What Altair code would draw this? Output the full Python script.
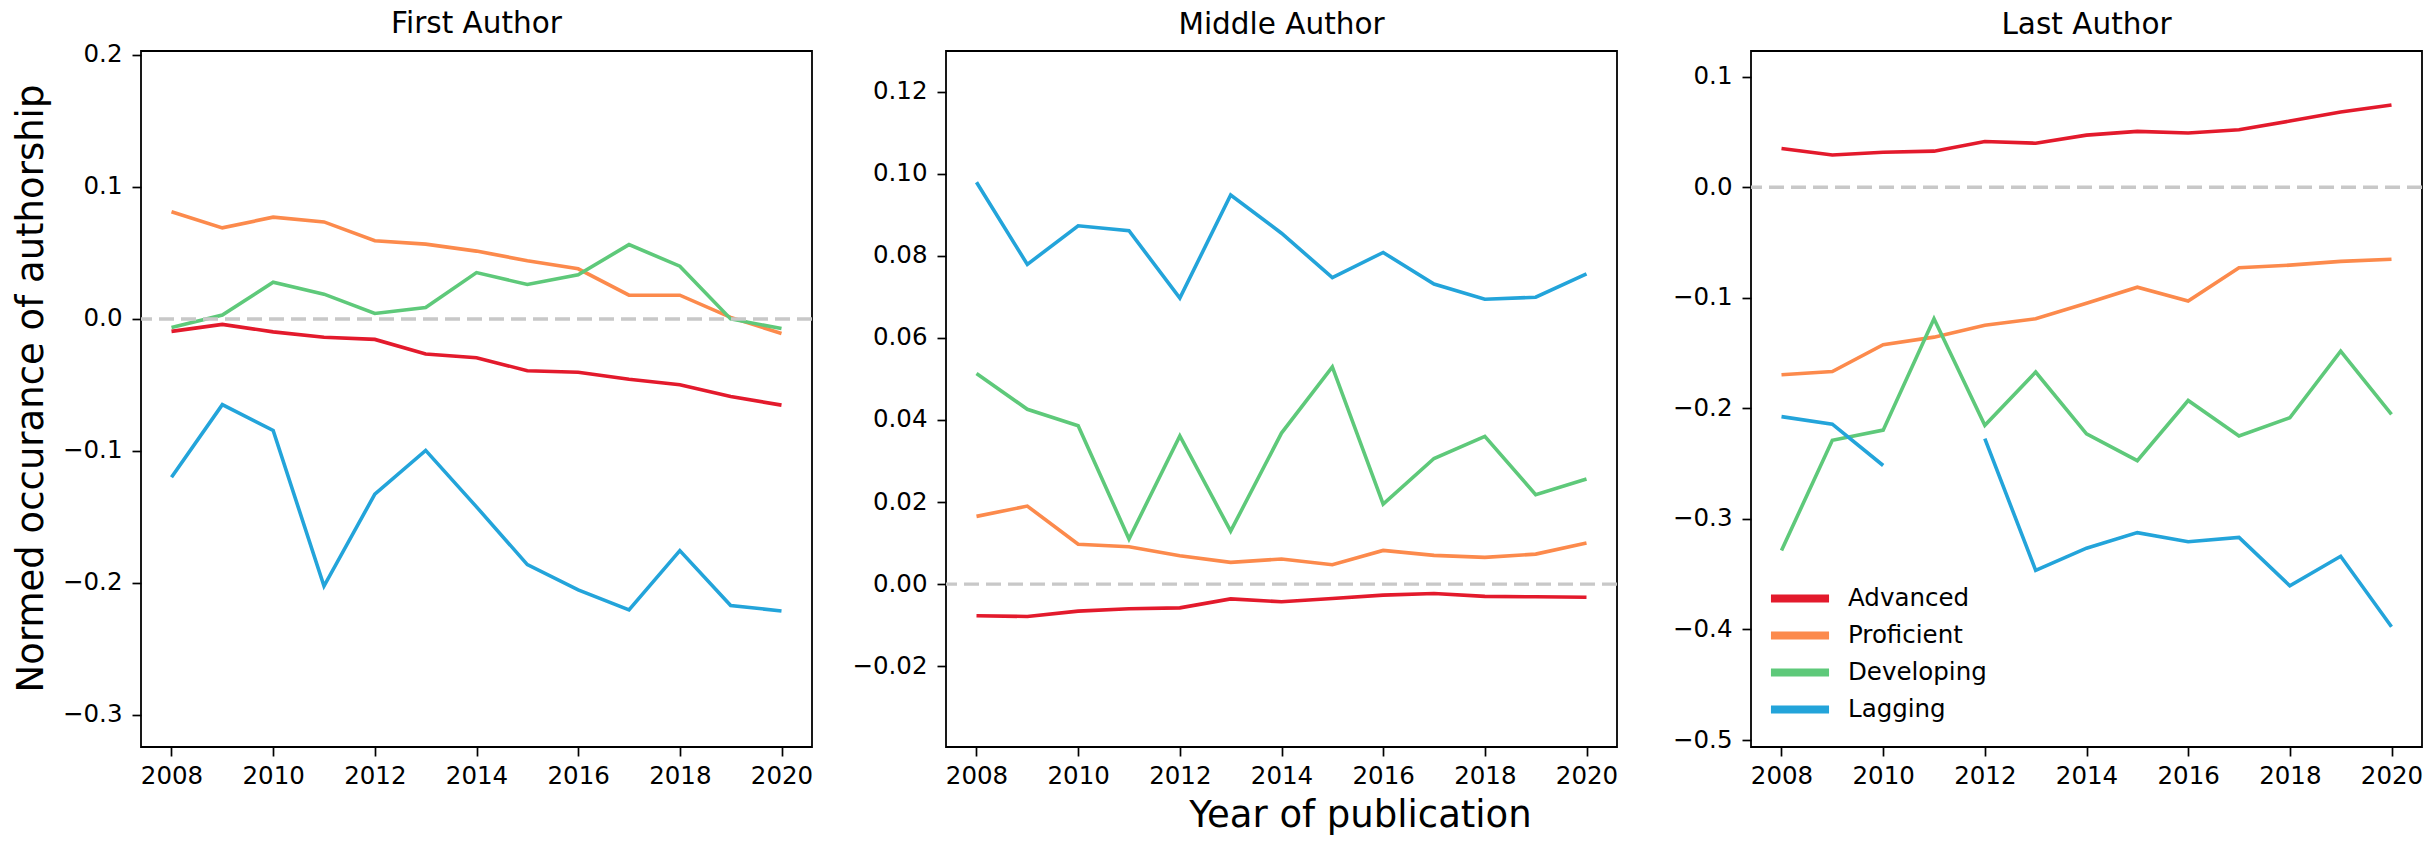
import altair as alt
import pandas as pd

years = list(range(2008, 2021))
levels = ["Advanced", "Proficient", "Developing", "Lagging"]
palette = ["#e31a2c", "#fc8a4c", "#5ec97a", "#23a4da"]

# First author
first_advanced = [-0.0094, -0.0041, -0.0098, -0.0139, -0.0155, -0.0265, -0.0294, -0.0392, -0.0404, -0.0457, -0.0498, -0.0588, -0.0653]
first_proficient = [0.0812, 0.0690, 0.0771, 0.0735, 0.0592, 0.0567, 0.0514, 0.0441, 0.0380, 0.0180, 0.0180, 0.0012, -0.0110]
first_developing = [-0.0065, 0.0029, 0.0278, 0.0188, 0.0041, 0.0086, 0.0351, 0.0261, 0.0335, 0.0563, 0.0400, 0.0000, -0.0073]
first_lagging = [-0.1200, -0.0649, -0.0845, -0.2024, -0.1327, -0.0996, -0.1424, -0.1861, -0.2053, -0.2204, -0.1755, -0.2171, -0.2212]

# Middle author
middle_advanced = [-0.0077, -0.0079, -0.0066, -0.0060, -0.0058, -0.0036, -0.0043, -0.0035, -0.0027, -0.0023, -0.0030, -0.0031, -0.0032]
middle_proficient = [0.0165, 0.0190, 0.0097, 0.0091, 0.0069, 0.0053, 0.0061, 0.0047, 0.0082, 0.0070, 0.0065, 0.0073, 0.0100]
middle_developing = [0.0513, 0.0426, 0.0386, 0.0110, 0.0361, 0.0129, 0.0368, 0.0529, 0.0195, 0.0306, 0.0360, 0.0218, 0.0256]
middle_lagging = [0.0979, 0.0779, 0.0873, 0.0861, 0.0697, 0.0948, 0.0855, 0.0747, 0.0808, 0.0731, 0.0694, 0.0699, 0.0756]

# Last author (no Lagging value for 2011)
last_advanced = [0.0350, 0.0292, 0.0316, 0.0326, 0.0413, 0.0398, 0.0471, 0.0505, 0.0491, 0.0520, 0.0598, 0.0680, 0.0743]
last_proficient = [-0.1696, -0.1667, -0.1424, -0.1356, -0.1249, -0.1190, -0.1050, -0.0904, -0.1030, -0.0729, -0.0705, -0.0671, -0.0651]
last_developing = [-0.3285, -0.2289, -0.2197, -0.1190, -0.2153, -0.1672, -0.2230, -0.2473, -0.1929, -0.2250, -0.2085, -0.1482, -0.2055]
last_lagging = [-0.2075, -0.2143, -0.2517, None, -0.2274, -0.3465, -0.3265, -0.3124, -0.3207, -0.3168, -0.3605, -0.3338, -0.3975]

FONT = "DejaVu Sans"
W, H = 671, 696


def long_table(series):
    rows = []
    for lvl, vals in zip(levels, series):
        for yr, v in zip(years, vals):
            rows.append({"year": yr, "level": lvl, "value": v})
    return pd.DataFrame(rows)


def panel(title, series, y_domain, y_ticks, y_fmt, title_offset, y_title=None, x_title=None, legend=None):
    df = long_table(series)
    if x_title:
        x_extra = {"title": x_title, "titleFontSize": 37, "titleFont": FONT, "titleFontWeight": "normal",
                   "titleColor": "black", "titleX": 414, "titleY": 79,
                   "titleAlign": "center", "titleBaseline": "alphabetic"}
    else:
        x_extra = {"title": None}
    if y_title:
        y_extra = {"title": y_title, "titleFontSize": 37, "titleFont": FONT, "titleFontWeight": "normal",
                   "titleColor": "black", "titleX": -110, "titleY": 337,
                   "titleAngle": 270, "titleAlign": "center", "titleBaseline": "middle"}
    else:
        y_extra = {"title": None}
    x_axis = alt.Axis(
        values=list(range(2008, 2021, 2)), format="d", grid=False, domain=False,
        tickSize=9, tickWidth=1.7, tickColor="black", labelPadding=8,
        labelFontSize=24.5, labelFont=FONT, labelColor="black", labelFlush=False,
        labelOverlap=False, **x_extra,
    )
    y_axis = alt.Axis(
        values=y_ticks, format=y_fmt, grid=False, domain=False,
        tickSize=9, tickWidth=1.7, tickColor="black", labelPadding=10,
        labelFontSize=24.5, labelFont=FONT, labelColor="black", labelFlush=False,
        labelOverlap=False, **y_extra,
    )
    x = alt.X("year:Q", scale=alt.Scale(domain=[2007.4, 2020.6], nice=False, zero=False), axis=x_axis)
    y = alt.Y("value:Q", scale=alt.Scale(domain=y_domain, nice=False, zero=False), axis=y_axis)

    lines = alt.Chart(df).mark_line(strokeWidth=3.6).encode(
        x=x, y=y,
        color=alt.Color("level:N", scale=alt.Scale(domain=levels, range=palette),
                        sort=levels, legend=legend),
        order=alt.Order("year:Q"),
    )
    # dashed reference line at zero
    zero = alt.Chart(pd.DataFrame({"ref": [0.0]})).mark_rule(
        color="#c8c8c8", strokeWidth=3.4, strokeDash=[15, 7]
    ).encode(y=alt.Y("ref:Q"))

    return alt.layer(lines, zero).properties(
        width=W, height=H,
        title=alt.TitleParams(title, fontSize=29.5, font=FONT, fontWeight="normal",
                              color="black", baseline="alphabetic", offset=title_offset),
    )


# wide horizontal stroke as the legend swatch
legend = alt.Legend(
    title=None, orient="none", legendX=28.5, legendY=527, symbolType="M-1.76,0H1.76",
    symbolStrokeWidth=8, symbolSize=1089, symbolOffset=0, symbolFillColor="transparent",
    labelFontSize=24.5, labelFont=FONT, labelColor="black", labelOffset=27.5,
    rowPadding=0, padding=0,
)

p1 = panel("First Author", [first_advanced, first_proficient, first_developing, first_lagging],
           [-0.3243, 0.2030], [-0.3, -0.2, -0.1, 0.0, 0.1, 0.2], ".1f", -20.5,
           y_title="Normed occurance of authorship")
p2 = panel("Middle Author", [middle_advanced, middle_proficient, middle_developing, middle_lagging],
           [-0.0397, 0.1299], [-0.02, 0.0, 0.02, 0.04, 0.06, 0.08, 0.10, 0.12], ".2f", -12.5,
           x_title="Year of publication")
p3 = panel("Last Author", [last_advanced, last_proficient, last_developing, last_lagging],
           [-0.5063, 0.1232], [-0.5, -0.4, -0.3, -0.2, -0.1, 0.0, 0.1], ".1f", -12.5,
           legend=legend)

chart = alt.hconcat(p1, p2, p3, spacing=134, bounds="flush").resolve_legend(
    color="independent"
).properties(
    padding={"left": 11, "top": 8, "right": 4, "bottom": 4},
    background="white",
).configure_view(stroke="black", strokeWidth=1.8)

chart.save("out.html", embed_options={"renderer": "svg", "actions": False})
